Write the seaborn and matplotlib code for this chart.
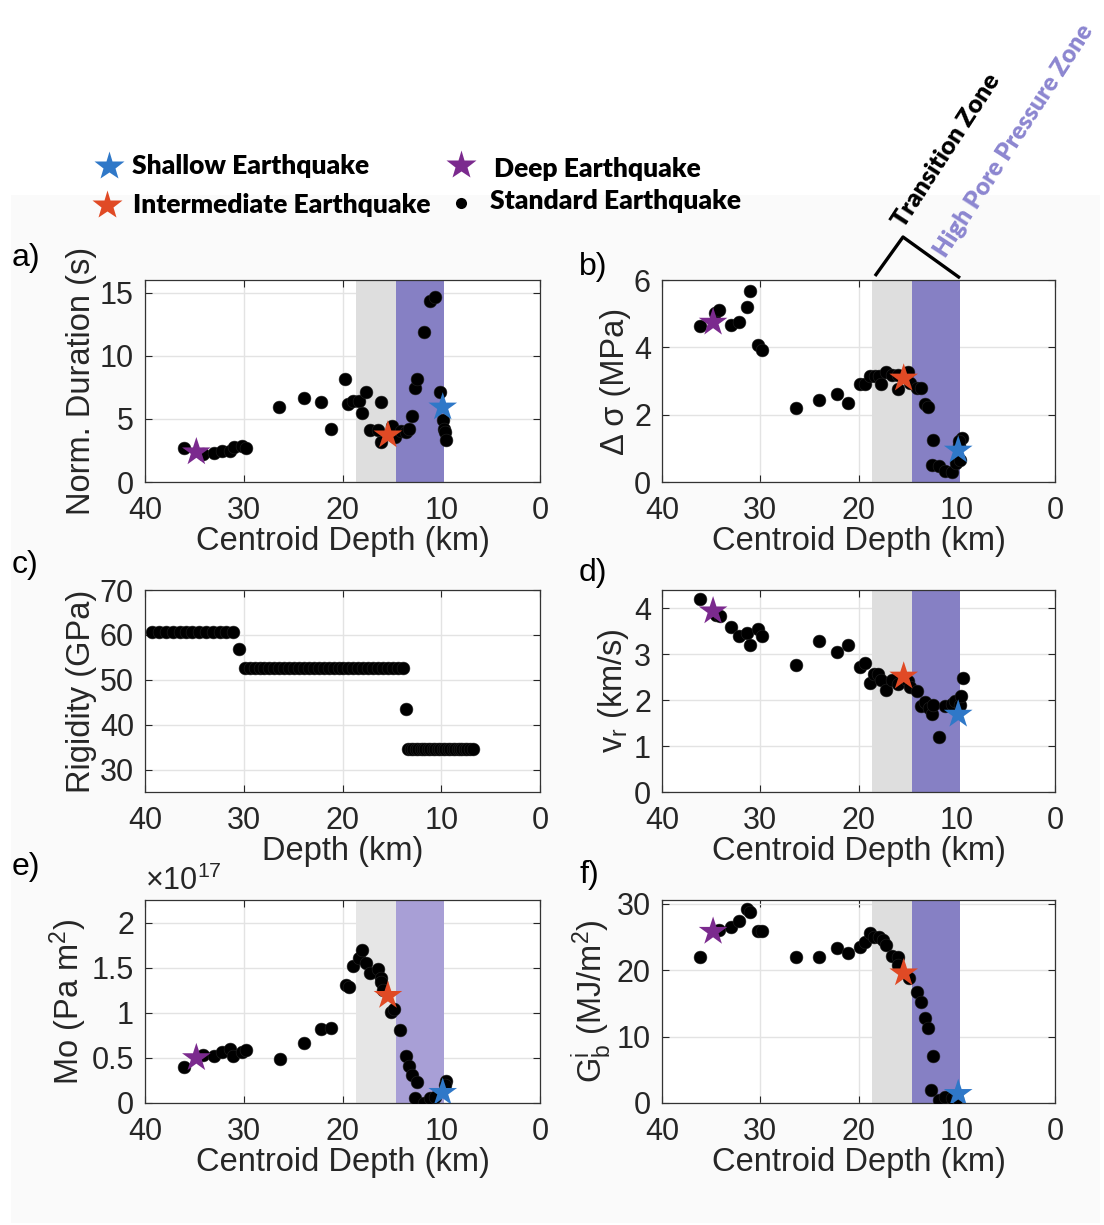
import numpy as np
import pandas as pd
import matplotlib
matplotlib.use("Agg")
import matplotlib.pyplot as plt
import seaborn as sns
from matplotlib.patches import Rectangle

# ---------------- DATA ----------------
# stars (special events): depths
star_depth = {"deep": 34.8, "inter": 15.4, "shallow": 9.85}

# a) Normalized duration
a_depth = [36.1, 34.1, 33.0, 32.2, 31.4, 31.0, 30.2, 29.8, 26.4, 23.9, 22.2, 21.2, 19.7, 19.4,
           18.9, 18.3, 18.05, 17.6, 17.2, 16.4, 16.1, 16.1, 15.0, 14.7, 14.1, 13.55, 13.25, 12.95,
           12.7, 12.5, 11.76, 11.15, 10.6, 10.1, 9.83, 9.73, 9.63, 9.56]
a_val = [2.68, 2.24, 2.32, 2.47, 2.45, 2.74, 2.84, 2.71, 5.95, 6.63, 6.32, 4.21, 8.16, 6.16,
         6.42, 6.42, 5.5, 7.13, 4.1, 4.1, 6.32, 3.16, 4.45, 3.6, 4.03, 3.97, 4.21, 5.24,
         7.45, 8.16, 11.9, 14.3, 14.66, 7.1, 4.92, 4.21, 3.95, 3.32]
a_stars = {"deep": 2.37, "inter": 3.71, "shallow": 5.92}

# b) Stress drop
b_depth = [36.13, 34.57, 34.2, 33.0, 32.2, 31.3, 31.0, 30.25, 29.85, 26.35, 23.97, 22.2, 21.1,
           19.8, 19.35, 18.85, 18.33, 17.9, 17.66, 17.2, 16.57, 16.0, 16.0, 14.94, 14.77, 14.06,
           13.6, 13.2, 12.9, 12.4, 12.56, 11.8, 11.2, 10.46, 10.1, 9.78, 9.44, 9.68, 9.74]
b_val = [4.62, 5.02, 5.11, 4.66, 4.75, 5.2, 5.67, 4.06, 3.92, 2.21, 2.44, 2.61, 2.35,
         2.91, 2.91, 3.14, 3.14, 3.14, 2.91, 3.26, 3.19, 2.77, 3.19, 3.27, 2.95, 2.79,
         2.79, 2.32, 2.22, 1.26, 0.51, 0.47, 0.34, 0.29, 0.56, 1.11, 1.31, 0.66, 1.21]
b_stars = {"deep": 4.74, "inter": 3.08, "shallow": 0.94}

# c) Rigidity model
c_depth = [39.3, 38.6, 37.9, 37.2, 36.5, 35.8, 35.2, 34.5, 33.8, 33.1, 32.4, 31.8, 31.1,
           30.46,
           29.9, 29.4, 28.9, 28.4, 27.9, 27.4, 26.9, 26.4, 25.9, 25.4, 24.9, 24.4, 23.9, 23.4,
           22.9, 22.4, 21.9, 21.4, 20.9, 20.4, 19.9, 19.4, 18.9, 18.4, 17.9, 17.4, 16.9, 16.4,
           15.9, 15.4, 14.9, 14.4, 13.9,
           13.55,
           13.35, 13.1, 12.85, 12.6, 12.35, 12.1, 11.85, 11.6, 11.35, 11.1, 10.85, 10.6, 10.35,
           10.1, 9.85, 9.6, 9.35, 9.1, 8.85, 8.6, 8.35, 8.1, 7.85, 7.6, 7.35, 7.1, 6.8]
c_val = [60.74] * 13 + [56.8] + [52.54] * 33 + [43.4] + [34.57] * 27

# d) Rupture velocity
d_depth = [36.13, 34.47, 34.1, 32.97, 32.2, 31.34, 31.04, 30.25, 29.85, 26.35, 23.97, 22.2, 21.1,
           19.8, 19.35, 18.85, 18.4, 18.0, 17.66, 17.2, 16.57, 16.0, 14.94, 14.77, 14.06, 13.65,
           13.2, 12.84, 12.56, 12.4, 11.8, 11.2, 10.5, 10.2, 9.68, 9.57, 9.37]
d_val = [4.2, 3.86, 3.84, 3.59, 3.4, 3.46, 3.21, 3.56, 3.4, 2.77, 3.3, 3.05, 3.21,
         2.72, 2.8, 2.38, 2.57, 2.57, 2.43, 2.23, 2.45, 2.36, 2.41, 2.28, 2.19, 1.87,
         1.95, 1.82, 1.69, 1.9, 1.2, 1.87, 1.92, 1.98, 1.9, 2.1, 2.48]
d_stars = {"deep": 3.94, "inter": 2.52, "shallow": 1.69}

# e) Seismic moment (x 1e17)
e_depth = [36.1, 34.15, 33.0, 32.2, 31.38, 31.04, 30.16, 29.82, 26.37, 23.87, 22.2, 21.16, 19.68,
           19.37, 18.93, 18.32, 18.05, 17.58, 17.17, 16.4, 16.1, 16.1, 15.92, 15.08, 14.74, 14.13,
           13.55, 13.25, 12.95, 12.5, 12.67, 11.76, 11.15, 10.6, 9.56, 9.63]
e_val = [0.395, 0.53, 0.52, 0.57, 0.6, 0.52, 0.56, 0.59, 0.49, 0.67, 0.82, 0.83, 1.31,
         1.29, 1.52, 1.61, 1.7, 1.55, 1.44, 1.48, 1.38, 1.34, 1.25, 1.01, 1.04, 0.81,
         0.52, 0.41, 0.31, 0.23, 0.055, 0.0, 0.055, 0.066, 0.24, 0.2]
e_stars = {"deep": 0.5, "inter": 1.19, "shallow": 0.115}

# f) Breakdown work
f_depth = [36.13, 34.2, 32.97, 32.2, 31.34, 31.04, 30.25, 29.85, 26.35, 23.97, 22.2, 21.1, 19.8,
           19.35, 18.85, 18.4, 17.9, 17.55, 17.2, 16.57, 16.0, 16.0, 14.87, 14.06, 13.65, 13.2,
           12.9, 12.4, 12.6, 11.8, 11.2, 10.5, 10.0]
f_val = [21.9, 26.0, 26.55, 27.4, 29.2, 28.7, 25.85, 25.85, 21.9, 21.9, 23.4, 22.5, 23.55,
         24.3, 25.65, 25.0, 25.0, 24.5, 23.85, 22.1, 21.9, 20.75, 18.8, 16.75, 15.25, 12.8,
         11.25, 7.05, 2.0, 0.4, 0.9, 0.8, 0.8]
f_stars = {"deep": 25.8, "inter": 19.55, "shallow": 1.4}

# zones (km)
transition_zone = (18.6, 14.6)
hpp_zone = (14.6, 9.7)

panel_letters = ["a)", "b)", "c)", "d)", "e)", "f)"]
y_labels = ["Norm. Duration (s)", "Δ σ (MPa)", "Rigidity (GPa)",
            r"$\mathregular{v_r}$ (km/s)", r"Mo (Pa m$^\mathregular{2}$)",
            r"$\mathregular{G^i_b}$ (MJ/m$^\mathregular{2}$)"]
x_labels = ["Centroid Depth (km)", "Centroid Depth (km)", "Depth (km)",
            "Centroid Depth (km)", "Centroid Depth (km)", "Centroid Depth (km)"]
y_ticks = [[0, 5, 10, 15], [0, 2, 4, 6], [30, 40, 50, 60, 70], [0, 1, 2, 3, 4],
           [0, 0.5, 1, 1.5, 2], [0, 10, 20, 30]]
y_ticklabels = [["0", "5", "10", "15"], ["0", "2", "4", "6"], ["30", "40", "50", "60", "70"],
                ["0", "1", "2", "3", "4"], ["0", "0.5", "1", "1.5", "2"], ["0", "10", "20", "30"]]
y_lims = [(0, 16), (0, 6), (25, 70), (0, 4.4), (0, 2.25), (0, 30.55)]
x_ticks = [40, 30, 20, 10, 0]

# ---------------- STYLE ----------------
sns.set_style("ticks")
plt.rcParams["font.family"] = ["Liberation Sans", "DejaVu Sans"]
plt.rcParams["mathtext.fontset"] = "custom"
plt.rcParams["mathtext.rm"] = "Liberation Sans"
plt.rcParams["mathtext.it"] = "Liberation Sans:italic"

TXT = "#262626"
BLUE = "#2F78C8"
ORANGE = "#E04A25"
PURPLE = "#7B2A8E"
ZONE_PURPLE = "#8680C4"
ZONE_GRAY = "#DEDEDE"

W, H = 1104, 1225
fig = plt.figure(figsize=(W / 100, H / 100), dpi=100)
fig.patch.set_facecolor("white")
fig.add_artist(Rectangle((11 / W, 1 - 1223 / H), (1100 - 11) / W, (1223 - 195) / H,
                         transform=fig.transFigure, facecolor="#FAFAFA", edgecolor="none",
                         zorder=-10))


def rect(l, t, r, b):
    return [l / W, 1 - b / H, (r - l) / W, (b - t) / H]


positions = [rect(145, 280, 540, 482), rect(662, 280, 1055, 482),
             rect(145, 590, 540, 792), rect(662, 590, 1055, 792),
             rect(145, 900, 540, 1103), rect(662, 900, 1055, 1103)]
letter_pos = [(12, 266), (579, 275), (12, 573), (579, 581), (12, 875), (579, 883)]

panels = [(a_depth, a_val, a_stars), (b_depth, b_val, b_stars), (c_depth, c_val, None),
          (d_depth, d_val, d_stars), (e_depth, e_val, e_stars), (f_depth, f_val, f_stars)]

for i, (dep, val, stars) in enumerate(panels):
    ax = fig.add_axes(positions[i])
    ax.set_facecolor("white")
    ax.set_axisbelow(True)
    ax.grid(True, color="#E3E3E3", lw=1.0, zorder=0)
    if stars is not None:
        if i == 4:
            gz, pz = "#E6E6E6", "#A89FD6"
        else:
            gz, pz = ZONE_GRAY, ZONE_PURPLE
        ax.axvspan(*transition_zone, color=gz, lw=0, zorder=1)
        ax.axvspan(*hpp_zone, color=pz, lw=0, zorder=1)
    df = pd.DataFrame({"depth": dep, "val": val})
    sns.scatterplot(data=df, x="depth", y="val", ax=ax, color="black", s=85,
                    edgecolor="#222222", linewidth=0.4, zorder=3, legend=False)
    if stars is not None:
        sdf = pd.DataFrame({"depth": [star_depth["deep"], star_depth["inter"], star_depth["shallow"]],
                            "val": [stars["deep"], stars["inter"], stars["shallow"]],
                            "kind": ["deep", "inter", "shallow"]})
        sns.scatterplot(data=sdf, x="depth", y="val", hue="kind", ax=ax, marker="*", s=470,
                        palette={"deep": PURPLE, "inter": ORANGE, "shallow": BLUE},
                        edgecolor="none", linewidth=0, zorder=4, legend=False)
    ax.set_xlim(40, 0)
    ax.set_ylim(*y_lims[i])
    ax.set_xticks(x_ticks)
    ax.set_xticklabels([str(t) for t in x_ticks])
    ax.set_yticks(y_ticks[i])
    ax.set_yticklabels(y_ticklabels[i])
    ax.tick_params(direction="in", length=5, width=0.8, colors=TXT, labelsize=22,
                   top=True, right=True)
    ax.tick_params(axis="x", pad=10)
    ax.tick_params(axis="y", pad=8)
    for sp in ax.spines.values():
        sp.set_visible(True)
        sp.set_color("#333333")
        sp.set_linewidth(0.9)
    ax.set_xlabel(x_labels[i], fontsize=23.5, color=TXT, labelpad=0)
    ax.set_ylabel(y_labels[i], fontsize=23.5, color=TXT, labelpad=2)
    fig.text(letter_pos[i][0] / W, 1 - letter_pos[i][1] / H, panel_letters[i],
             fontsize=23, color="black")
    if i == 4:
        ax.text(0.0, 1.015, r"$\times\mathregular{10^{17}}$", transform=ax.transAxes,
                fontsize=22, color=TXT, ha="left", va="bottom")

# ---------------- ANNOTATION OVERLAY ----------------
ov = fig.add_axes([0, 0, 1, 1])
ov.set_xlim(0, W)
ov.set_ylim(H, 0)
ov.axis("off")
ov.patch.set_alpha(0)

bold = dict(fontsize=19, fontweight="heavy", family=["Lato", "DejaVu Sans"], color="black",
            va="center", ha="left")
ov.plot([109], [166], marker="*", color=BLUE, ms=22, mec="none")
ov.text(132, 166, "Shallow Earthquake", **bold)
ov.plot([107], [205], marker="*", color=ORANGE, ms=22, mec="none")
ov.text(133, 205, "Intermediate Earthquake", **bold)
ov.plot([461], [165], marker="*", color=PURPLE, ms=22, mec="none")
ov.text(494, 169, "Deep Earthquake", **bold)
ov.plot([461], [203], marker="o", color="black", ms=8, mec="none")
ov.text(490, 201, "Standard Earthquake", **bold)

# bracket and zone labels
ov.plot([875, 903, 960], [276, 237, 278], color="black", lw=2.4, solid_capstyle="butt")
ov.text(904, 229, "Transition Zone", rotation=57, rotation_mode="anchor", ha="left",
        va="baseline", fontsize=18, fontweight="heavy", family=["Lato", "DejaVu Sans"],
        color="black")
ov.text(946, 259, "High Pore Pressure Zone", rotation=57, rotation_mode="anchor", ha="left",
        va="baseline", fontsize=17.5, fontweight="heavy", family=["Lato", "DejaVu Sans"],
        color="#8C86D0")

fig.savefig("out.png", dpi=100)
